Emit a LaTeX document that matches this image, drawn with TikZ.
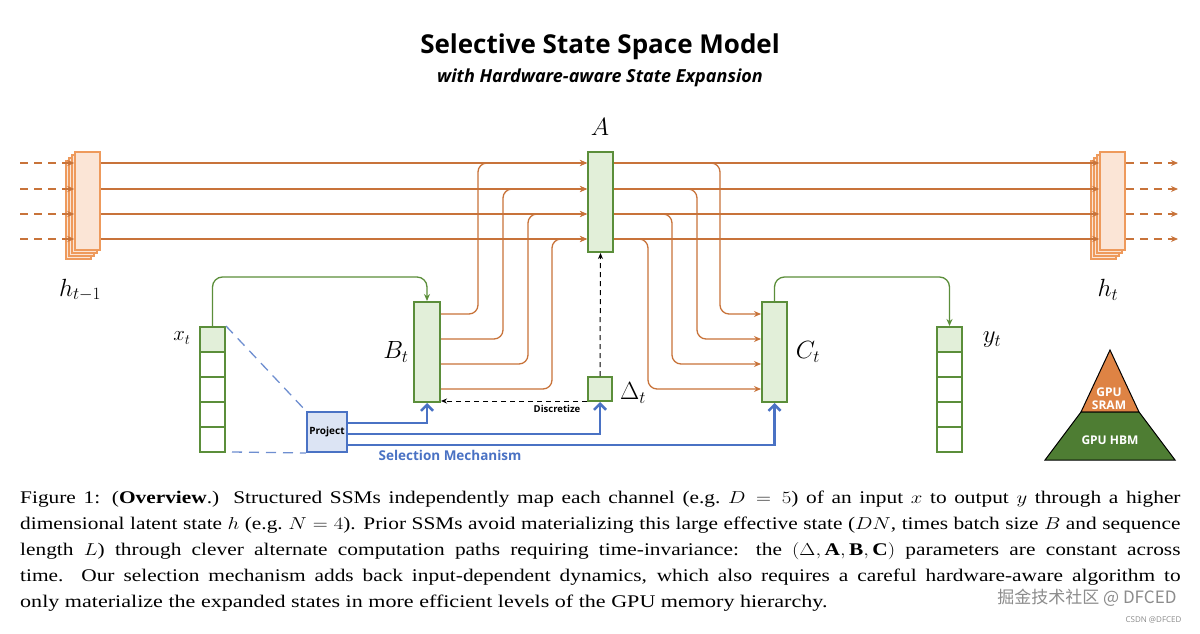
\documentclass[tikz,border=0pt]{standalone}
\usepackage{fontspec}
\setmainfont{Liberation Serif}
\newfontfamily\osans{Open Sans}
\newfontfamily\cjk{Noto Sans CJK SC}
\usetikzlibrary{arrows.meta,calc}
\definecolor{gfill}{HTML}{E2EFD9}\definecolor{gline}{HTML}{5B8E3A}
\definecolor{oline}{HTML}{C8733A}\definecolor{ofill}{HTML}{FBE5D6}\definecolor{oedge}{HTML}{EE9A5C}
\definecolor{bline}{HTML}{4A72C4}\definecolor{bfill}{HTML}{DCE4F4}
\definecolor{sram}{HTML}{DE8344}\definecolor{hbm}{HTML}{4E7D33}
\newcommand\capline[1]{\scalebox{1.2}[1]{\makebox[967pt][s]{#1}}}
\begin{document}
\begin{tikzpicture}[x=1pt,y=-1pt,
 gbox/.style={draw=gline,fill=gfill,line width=2pt,inner sep=0pt},
 cell/.style={draw=gline,fill=white,line width=2pt,minimum width=25pt,minimum height=25pt,inner sep=0pt},
 hbox/.style={draw=oedge,fill=ofill,line width=1.5pt,minimum width=25pt,minimum height=98pt,inner sep=0pt},
 or/.style={draw=oline,line width=1.3pt,-{Stealth[length=7pt,width=6pt]},rounded corners=9pt},
 ordash/.style={draw=oline,line width=1.3pt,dash pattern=on 8pt off 6pt,-{Stealth[length=7pt,width=6pt]}},
 gr/.style={draw=gline,line width=1.3pt,-{Stealth[length=7pt,width=6pt]},rounded corners=10pt},
 bl/.style={draw=bline,line width=2.5pt,-{Straight Barb[length=6pt,width=12pt]}},
 lab/.style={font=\fontsize{26}{26}\selectfont}]
\useasboundingbox[fill=white] (0,0) rectangle (1200,634);
\node[font=\osans\bfseries\fontsize{26}{30}\selectfont] (title) at (600,47) {Selective State Space Model};
\node[font=\osans\bfseries\itshape\fontsize{18}{22}\selectfont] (sub) at (600,78) {with Hardware-aware State Expansion};
% h_{t-1}
\foreach \k in {3,2,1} \node[hbox] at ($(87.5,201)+(-3*\k,3*\k)$) {};
\node[hbox] (hp) at (87.5,201) {};
\foreach \k in {3,2,1} \node[hbox] at ($(1112.5,201)+(-3*\k,3*\k)$) {};
\node[hbox] (hn) at (1112.5,201) {};
\node[lab] (hpl) at (80,290) {$h_{t-1}$};
\node[lab] (hnl) at (1108,290) {$h_t$};
% boxes
\node[gbox,minimum width=25pt,minimum height=100pt] (A) at (600.5,202) {};
\node[lab,font=\fontsize{24}{24}\selectfont] (Al) at (600,127) {$A$};
\node[gbox,minimum width=26pt,minimum height=100pt] (B) at (427,352) {};
\node[lab] (Bl) at (396,352) {$B_t$};
\node[gbox,minimum width=25pt,minimum height=100pt] (C) at (774.5,352) {};
\node[lab] (Cl) at (808,352) {$C_t$};
\node[gbox,minimum width=24pt,minimum height=24pt] (D) at (600,389) {};
\node[lab] (Dl) at (633,393) {$\Delta_t$};
% x and y columns
\node[cell,fill=gfill] (x1) at (212.5,339.5) {};
\foreach \i in {2,...,5} \node[cell] (x\i) at (212.5,314.5+25*\i) {};
\node[cell,fill=gfill] (y1) at (949.5,339.5) {};
\foreach \i in {2,...,5} \node[cell] (y\i) at (949.5,314.5+25*\i) {};
\node[lab,font=\fontsize{22}{22}\selectfont] (xl) at (182,338) {$x_t$};
\node[lab] (yl) at (992,340) {$y_t$};
% project
\node[draw=bline,fill=bfill,line width=2pt,minimum width=40pt,minimum height=40pt,inner sep=0pt,font=\osans\bfseries\fontsize{10}{10}\selectfont] (P) at (327,432) {Project};
\node[text=bline,font=\osans\bfseries\fontsize{13.5}{14}\selectfont] (sel) at (450,455) {Selection Mechanism};
% orange
\foreach \y in {163,189,214,239} {
 \draw[ordash] (20,\y) -- (hp.west|-0,\y);
 \draw[or] (hp.east|-0,\y) -- (A.west|-0,\y);
 \draw[or] (A.east|-0,\y) -- (hn.west|-0,\y);
 \draw[ordash] (hn.east|-0,\y) -- (1178,\y);
}
\foreach \yb/\ya/\xv in {314/163/478,339/189/503,364/214/528,389/239/552}
 \draw[or] (B.east|-0,\yb) -- (\xv,\yb) -- (\xv,\ya) -- (A.west|-0,\ya);
\foreach \yc/\ya/\xv in {314/163/720,339/189/697,364/214/672,389/239/648}
 \draw[or] (A.east|-0,\ya) -- (\xv,\ya) -- (\xv,\yc) -- (C.west|-0,\yc);
% green
\draw[gr] (x1.north) -- (212.5,277) -- (427,277) -- (B.north);
\draw[gr] (C.north) -- (774.5,277) -- (949.5,277) -- (y1.north);
% dashed black
\draw[dash pattern=on 5pt off 4pt,line width=1pt,-{Stealth[length=6pt,width=5pt]}] (D.north) -- (A.south);
\draw[dash pattern=on 5pt off 4pt,line width=1pt,-{Stealth[length=6pt,width=5pt]}] (D.west|-0,401) -- (B.east|-0,401);
\node[font=\osans\bfseries\fontsize{9.5}{10}\selectfont] (disc) at (557,409) {Discretize};
% blue
\draw[bl] (P.east|-0,423) -- (427,423) -- (B.south);
\draw[bl] (P.east|-0,434) -- (600,434) -- (D.south);
\draw[bl] (P.east|-0,445) -- (774.5,445) -- (C.south);
\draw[draw=bline!80,line width=1.3pt,dash pattern=on 10pt off 7pt] (x1.north east) -- (P.north west);
\draw[draw=bline!80,line width=1.3pt,dash pattern=on 10pt off 7pt] (232,452) -- (P.south west);
% pyramid
\fill[sram,draw=black,line width=1pt] (1110,350) -- (1081,412) -- (1139,412) -- cycle;
\fill[hbm,draw=black,line width=1pt] (1081,412) -- (1139,412) -- (1175,460) -- (1045,460) -- cycle;
\node[text=white,font=\osans\bfseries\fontsize{12}{13}\selectfont,align=center] (sr) at (1109,399) {GPU\\SRAM};
\node[text=white,font=\osans\bfseries\fontsize{12}{13}\selectfont] (hb) at (1110,440) {GPU HBM};
% caption
\begin{scope}[every node/.style={anchor=west,font=\fontsize{17.8}{20}\selectfont,inner sep=0pt}]
\node (c1) at (20,499) {\capline{Figure 1: (\textbf{Overview}.) Structured SSMs independently map each channel (e.g.\ $D=5$) of an input $x$ to output $y$ through a higher}};
\node (c2) at (20,525) {\capline{dimensional latent state $h$ (e.g.\ $N=4$). Prior SSMs avoid materializing this large effective state ($DN$, times batch size $B$ and sequence}};
\node (c3) at (20,551) {\capline{length $L$) through clever alternate computation paths requiring time-invariance: the $(\Delta,\mathbf{A},\mathbf{B},\mathbf{C})$ parameters are constant across}};
\node (c4) at (20,577) {\capline{time. Our selection mechanism adds back input-dependent dynamics, which also requires a careful hardware-aware algorithm to}};
\node (c5) at (20,603) {\scalebox{1.24}[1]{only materialize the expanded states in more efficient levels of the GPU memory hierarchy.}};
\end{scope}
\node[anchor=east,text=black!45,font=\cjk\fontsize{17}{18}\selectfont] (wm) at (1180,598) {掘金技术社区 @ DFCED};
\node[anchor=east,text=black!45,font=\osans\fontsize{8}{9}\selectfont] (wm2) at (1185,620) {CSDN @DFCED};
\end{tikzpicture}
\end{document}
